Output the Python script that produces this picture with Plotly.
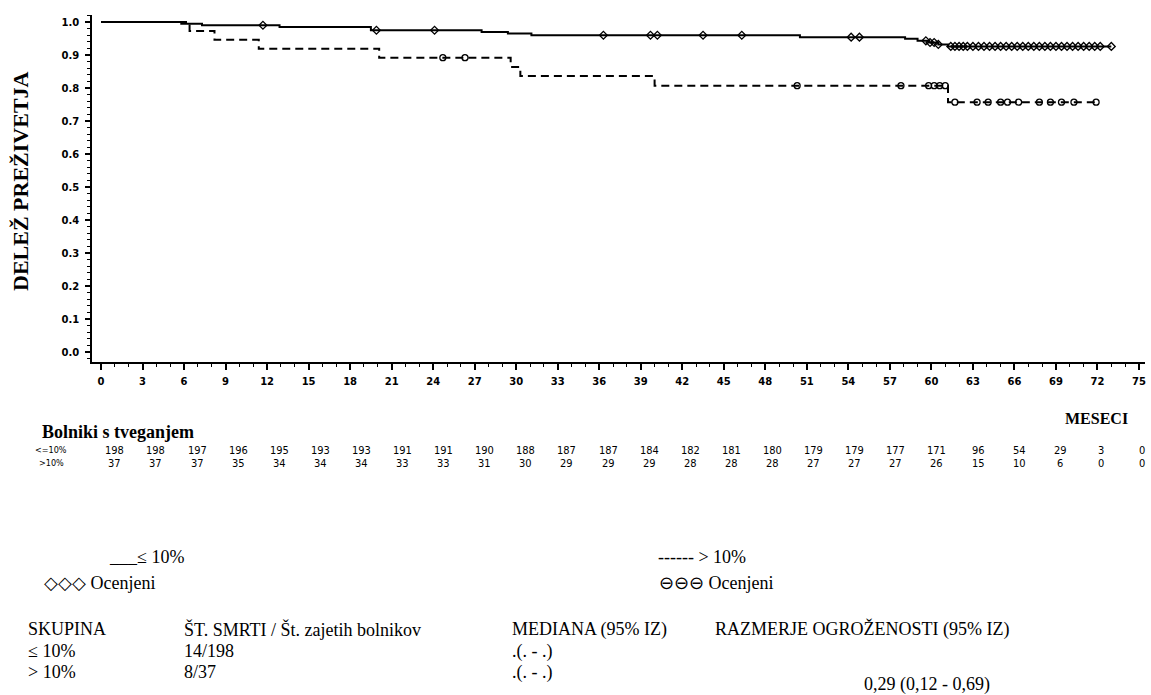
import plotly.graph_objects as go

# ---------------- data ----------------
# group <=10% (solid): step times (months) and survival after each step
low_t = [0, 5.8, 7.3, 12.9, 19.5, 27.5, 29.4, 31.1, 50.5, 58.1, 59.0, 59.8, 60.5, 61.2, 73.0]
low_s = [1.0, 0.995, 0.990, 0.985, 0.975, 0.970, 0.965, 0.960, 0.954, 0.949, 0.943, 0.938, 0.932, 0.926, 0.926]
low_cens = [11.7, 19.9, 24.1, 36.3, 39.7, 40.2, 43.5, 46.3, 54.2, 54.8, 59.6, 59.9, 60.2, 60.5,
            61.4, 61.7, 62.0, 62.3, 62.6, 63.0, 63.4, 63.8, 64.2, 64.6, 65.0, 65.4, 65.8, 66.2,
            66.6, 67.0, 67.4, 67.8, 68.2, 68.6, 69.0, 69.4, 69.8, 70.2, 70.6, 71.0, 71.4, 71.8,
            72.2, 73.0]

# group >10% (dashed)
high_t = [0, 6.4, 8.2, 11.4, 20.1, 29.6, 30.3, 40.0, 61.2, 72.0]
high_s = [1.0, 0.973, 0.946, 0.919, 0.892, 0.864, 0.836, 0.807, 0.757, 0.757]
high_cens = [24.7, 26.3, 50.3, 57.8, 59.8, 60.2, 60.6, 61.0, 61.7, 63.3, 64.1, 65.0, 65.5,
             66.3, 67.8, 68.6, 69.4, 70.3, 71.9]

x_ticks = list(range(0, 76, 3))
y_ticks = [0.0, 0.1, 0.2, 0.3, 0.4, 0.5, 0.6, 0.7, 0.8, 0.9, 1.0]

risk_low = [198, 198, 197, 196, 195, 193, 193, 191, 191, 190, 188, 187, 187, 184, 182, 181,
            180, 179, 179, 177, 171, 96, 54, 29, 3, 0]
risk_high = [37, 37, 37, 35, 34, 34, 34, 33, 33, 31, 30, 29, 29, 29, 28, 28, 28, 27, 27, 27,
             26, 15, 10, 6, 0, 0]
risk_labels = ["<=10%", ">10%"]

table_header = ["SKUPINA", "ŠT. SMRTI / Št. zajetih bolnikov", "MEDIANA (95% IZ)",
                "RAZMERJE OGROŽENOSTI (95% IZ)"]
table_rows = [["≤ 10%", "14/198", ".(. - .)"], ["> 10%", "8/37", ".(. - .)"]]
hazard_ratio = "0,29 (0,12 - 0,69)"

# ---------------- geometry ----------------
W, H = 1151, 695
L, R, T, B = 92, 1145, 15, 362


def px(x):
    return (x - L) / (R - L)


def py(y):
    return (B - y) / (B - T)


def step_value(ts, ss, t):
    v = ss[0]
    for ti, si in zip(ts, ss):
        if ti <= t:
            v = si
    return v


fig = go.Figure()

fig.add_trace(go.Scatter(x=low_t, y=low_s, mode="lines", line=dict(color="black", width=2, shape="hv"),
                         showlegend=False, hoverinfo="skip"))
fig.add_trace(go.Scatter(x=high_t, y=high_s, mode="lines",
                         line=dict(color="black", width=2, shape="hv", dash="8px,5px"),
                         showlegend=False, hoverinfo="skip"))
fig.add_trace(go.Scatter(x=low_cens, y=[step_value(low_t, low_s, t) for t in low_cens], mode="markers",
                         marker=dict(symbol="diamond-open", size=6, color="black", line=dict(width=1.3)),
                         showlegend=False, hoverinfo="skip"))
fig.add_trace(go.Scatter(x=high_cens, y=[step_value(high_t, high_s, t) for t in high_cens], mode="markers",
                         marker=dict(symbol="circle-open", size=6, color="black", line=dict(width=1.3)),
                         showlegend=False, hoverinfo="skip"))

tickfont = dict(family="DejaVu Sans, Liberation Sans, sans-serif", size=10, color="black", weight="bold")

fig.update_xaxes(range=[(L - 101) / 13.84, (R - 101) / 13.84], tickmode="linear", tick0=x_ticks[0],
                 dtick=x_ticks[1] - x_ticks[0], ticks="outside", ticklen=6, tickwidth=1.5,
                 tickcolor="black", showline=True, linecolor="black", linewidth=1.5, showgrid=False,
                 zeroline=False, tickfont=tickfont, ticklabelstandoff=3,
                 minor=dict(dtick=1, tick0=0, ticks="outside", ticklen=3, tickcolor="black", tickwidth=1.2,
                            showgrid=False))
fig.update_yaxes(range=[(352 - B) / 330, (352 - T) / 330], tickmode="linear", tick0=y_ticks[0],
                 dtick=0.1, tickformat=".1f", ticks="outside", ticklen=5, tickwidth=1.5,
                 tickcolor="black", showline=True, linecolor="black", linewidth=1.5, showgrid=False,
                 zeroline=False, tickfont=tickfont, ticklabelstandoff=4,
                 minor=dict(dtick=0.02, tick0=0, ticks="outside", ticklen=3, tickcolor="black", tickwidth=1,
                            showgrid=False))

serif = "Liberation Serif, Times New Roman, serif"
narrow = "Liberation Sans Narrow, DejaVu Sans Condensed, Arial Narrow, sans-serif"
ann = []


def text(x, y, s, size=15, bold=False, anchor="left", family=serif, angle=0, xref="paper"):
    ann.append(dict(x=x, y=py(y), xref=xref, yref="paper", text=(f"<b>{s}</b>" if bold else s),
                    showarrow=False, xanchor=anchor, yanchor="middle", textangle=angle,
                    font=dict(family=family, size=size, color="black")))


text(px(21), 181, "DELEŽ PREŽIVETJA", size=22, bold=True, anchor="center", angle=-90)
text(px(1096), 418, "MESECI", size=16, bold=True, anchor="center")
text(px(40), 432, "Bolniki s tveganjem", size=18, bold=True)

for row_y, lab, vals in [(450, risk_labels[0], risk_low), (463, risk_labels[1], risk_high)]:
    text(px(51), row_y, lab, size=9, anchor="center", family=narrow)
    for t, v in zip(x_ticks, vals):
        text(t * 0.99 + 1.0, row_y, str(v), size=11, anchor="center", family=narrow, xref="x")

fs = 18
text(px(107), 557, "___≤ 10%", size=fs)
text(px(42), 583, "◇◇◇ Ocenjeni", size=fs)
text(px(656), 557, "------ &gt; 10%", size=fs)
text(px(657), 583, "⊖⊖⊖ Ocenjeni", size=fs)

cols = [26, 182, 510, 713]
for c, s in zip(cols, table_header):
    text(px(c), 629, s, size=fs)
for ry, row in zip([651, 672], table_rows):
    for c, s in zip(cols, row):
        text(px(c), ry, s.replace(">", "&gt;"), size=fs)
text(px(862), 684, hazard_ratio, size=fs)

fig.update_layout(width=W, height=H, margin=dict(l=L, r=W - R, t=T, b=H - B),
                  plot_bgcolor="white", paper_bgcolor="white", annotations=ann, showlegend=False)

fig.write_html("out.html")
